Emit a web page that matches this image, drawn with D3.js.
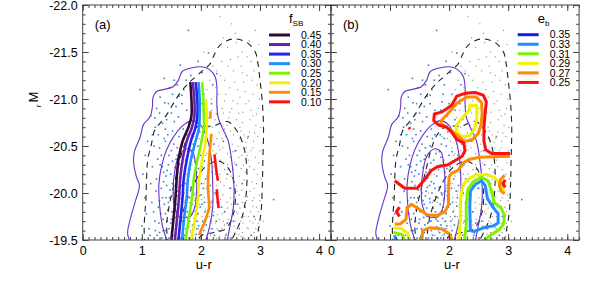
<!DOCTYPE html>
<html>
<head>
<meta charset="utf-8">
<script src="https://cdn.jsdelivr.net/npm/d3@7"></script>
<style>
  body { margin: 0; background: #fff; }
  text { font-family: "Liberation Sans", Arial, Helvetica, sans-serif; fill: #000; }
</style>
</head>
<body>
<svg id="chart" width="591" height="295"></svg>
<script>
// ---- data (u-r colour, M_r magnitude) ----
var xTicks = [0, 1, 2, 3, 4];
var yTicks = [-22.0, -21.5, -21.0, -20.5, -20.0, -19.5];
var xDomain = [0, 4.2];
var yDomain = [-22, -19.5];

// blue cloud galaxies
var blueDots = [
  [0.97,-21.10],[1.79,-21.73],[1.65,-21.36],[2.13,-21.49],[2.27,-21.27],[1.31,-21.02],[1.39,-20.96],[1.68,-21.04],
  [1.76,-20.88],[1.62,-20.81],[1.47,-21.12],[1.55,-21.20],[1.92,-21.15],[2.05,-21.05],[1.83,-21.25],[1.25,-20.90],
  [1.42,-20.78],[1.58,-20.92],[2.18,-20.95],[1.97,-20.82],[1.35,-20.74],[1.71,-21.10],[2.02,-21.28],[1.50,-20.85],
  [1.88,-20.97],[1.15,-20.82],[1.23,-20.70],[2.10,-20.78],[1.63,-21.03],[1.80,-20.75],[3.23,-19.93],[2.60,-20.30],
  [1.06,-20.40],[2.40,-19.80],
  [1.28,-20.62],[1.40,-20.55],[1.52,-20.66],[1.60,-20.48],[1.72,-20.58],[1.85,-20.62],[1.95,-20.50],[2.08,-20.60],
  [1.33,-20.40],[1.45,-20.30],[1.58,-20.36],[1.67,-20.25],[1.78,-20.42],[1.90,-20.33],[2.02,-20.28],[2.15,-20.40],
  [1.21,-20.50],[1.37,-20.22],[1.50,-20.45],[1.63,-20.60],[1.82,-20.25],[1.98,-20.65],[2.22,-20.52],[1.44,-20.62],
  [1.56,-20.27],[1.74,-20.35],[1.87,-20.52],[2.05,-20.44],[1.31,-20.30],[1.66,-20.42],[1.93,-20.22],[1.18,-20.28],
  [2.25,-20.30],[1.49,-20.20],[1.70,-20.68],
  [1.25,-20.15],[1.33,-20.05],[1.41,-20.18],[1.47,-19.95],[1.52,-20.10],[1.58,-19.88],[1.61,-20.02],[1.66,-19.75],
  [1.70,-20.12],[1.74,-19.92],[1.79,-19.64],[1.83,-20.06],[1.88,-19.81],[1.92,-19.56],[1.97,-19.97],[2.03,-19.70],
  [2.08,-20.15],[2.13,-19.86],[2.19,-19.62],[2.24,-20.00],[1.28,-19.85],[1.36,-19.72],[1.39,-19.60],[1.44,-19.82],
  [1.49,-19.68],[1.55,-19.55],[1.57,-19.74],[1.63,-19.60],[1.68,-19.90],[1.72,-19.55],[1.77,-19.80],[1.81,-19.95],
  [1.86,-19.66],[1.90,-20.12],[1.95,-19.78],[2.00,-19.58],[2.06,-19.90],[2.11,-19.55],[2.16,-20.08],[2.21,-19.76],
  [1.22,-19.70],[1.30,-19.58],[1.35,-19.95],[1.42,-20.08],[1.46,-19.52],[1.51,-19.80],[1.54,-20.00],[1.59,-19.66],
  [1.64,-20.16],[1.69,-19.70],[1.73,-19.84],[1.76,-20.05],[1.80,-19.52],[1.85,-19.88],[1.89,-19.73],[1.94,-20.02],
  [1.99,-19.85],[2.04,-20.05],[2.09,-19.66],[2.14,-19.95],[1.38,-19.88],[1.48,-20.03],[1.53,-19.62],[1.60,-19.97],
  [1.65,-19.52],[1.71,-20.00],[1.78,-19.72],[1.84,-19.58],[1.91,-19.94],[1.96,-19.65],[2.01,-20.10],[2.07,-19.80],
  [1.26,-19.55],[1.32,-19.78],[1.43,-19.70],[1.62,-19.84],[1.67,-20.08],[1.75,-19.62],[1.87,-20.00],[1.98,-19.52],
  [2.30,-19.60],[2.35,-19.85],[2.28,-20.15],[2.42,-19.55],[1.17,-19.90],[1.12,-19.62],[1.08,-19.78],[2.50,-20.05],
  [2.55,-19.70],[2.65,-19.62],[2.45,-20.20],[2.38,-20.55],[2.70,-20.10],[1.15,-20.10],[1.05,-19.95],[2.85,-19.55],
  [2.75,-19.85],
  [1.30,-20.48],[1.38,-20.58],[1.46,-20.40],[1.54,-20.52],[1.60,-20.40],[1.68,-20.50],[1.76,-20.62],[1.84,-20.44],
  [1.92,-20.58],[2.00,-20.40],[1.27,-20.36],[1.35,-20.28],[1.43,-20.24],[1.52,-20.34],[1.61,-20.22],[1.69,-20.32],
  [1.79,-20.18],[1.86,-20.38],[1.96,-20.26],[2.06,-20.34],[1.24,-20.02],[1.30,-19.92],[1.37,-20.12],[1.45,-19.90],
  [1.50,-19.72],[1.56,-19.92],[1.60,-19.78],[1.64,-19.68],[1.67,-19.94],[1.72,-19.76],[1.77,-19.96],[1.81,-19.70],
  [1.86,-19.52],[1.90,-19.85],[1.93,-19.62],[1.97,-20.08],[2.02,-19.88],[2.10,-19.75],[2.18,-19.90],[2.23,-19.55],
  [1.29,-19.68],[1.34,-19.52],[1.40,-19.78],[1.46,-19.62],[1.52,-19.54],[1.58,-19.58],[1.63,-20.06],[1.70,-19.60],
  [1.74,-20.10],[1.83,-19.78],[1.88,-19.98],[1.94,-19.70],[2.00,-19.98],[2.05,-19.60],[2.12,-20.02],[2.17,-19.70],
  [1.20,-19.80],[1.23,-19.60],[1.36,-19.60],[1.41,-19.95],[1.18,-20.62],[1.22,-20.80],[1.30,-20.85],[1.45,-20.95],
  [1.52,-21.05],[1.60,-21.15],[1.75,-21.20],[1.90,-21.05],[2.00,-20.95],[2.10,-20.88],[1.86,-20.88],[1.68,-20.95],
  [1.40,-20.68],[1.55,-20.76],[2.20,-21.15],[1.10,-20.55],[1.02,-20.20],[1.00,-19.65],[2.30,-19.90],[2.26,-19.70],
  [2.45,-19.68],[2.62,-19.88],[2.58,-20.45],[2.80,-20.60],[1.14,-19.55],[1.95,-21.40],[1.38,-21.22],[2.90,-19.75]
];

// red sequence galaxies
var grayDots = [
  [2.32,-21.88],[2.58,-21.70],[2.92,-21.73],[2.45,-21.55],[2.70,-21.50],[2.85,-21.40],[2.20,-21.35],[2.55,-21.30],
  [2.40,-21.20],[2.78,-21.25],[2.95,-21.15],[2.62,-21.10],[2.30,-21.05],[2.88,-21.05],[2.50,-21.42],[2.15,-21.20],
  [2.68,-21.35],[2.98,-21.58],[2.38,-21.65],[2.05,-21.50],[2.82,-21.62],[2.48,-21.12],[2.72,-21.18],[2.25,-21.12],
  [2.60,-21.60],[2.90,-21.30],[2.35,-21.40],[2.10,-21.10],[2.66,-21.02],[2.52,-21.80],
  [2.05,-20.95],[2.18,-20.88],[2.28,-20.92],[2.40,-20.98],[2.52,-20.90],[2.64,-20.85],[2.76,-20.95],[2.88,-20.82],
  [2.97,-20.90],[2.12,-20.70],[2.24,-20.78],[2.35,-20.72],[2.47,-20.80],[2.58,-20.68],[2.70,-20.75],[2.82,-20.65],
  [2.93,-20.72],[2.02,-20.55],[2.16,-20.62],[2.30,-20.50],[2.42,-20.60],[2.53,-20.52],[2.66,-20.58],[2.77,-20.48],
  [2.89,-20.55],[3.00,-20.45],[2.08,-20.40],[2.20,-20.45],[2.33,-20.35],[2.45,-20.42],[2.57,-20.32],[2.69,-20.40],
  [2.80,-20.35],[2.92,-20.38],[1.95,-20.75],[1.88,-20.60],[2.62,-20.95],[2.38,-20.85],[2.85,-20.88],[2.73,-20.62],
  [2.50,-20.66],[2.27,-20.58],[2.96,-20.60],[2.14,-20.52],[2.60,-20.45],[2.45,-20.30],
  [2.00,-20.25],[2.10,-20.18],[2.22,-20.28],[2.32,-20.20],[2.43,-20.15],[2.55,-20.25],[2.65,-20.18],[2.75,-20.22],
  [2.86,-20.12],[2.96,-20.20],[1.95,-20.05],[2.05,-20.10],[2.15,-20.02],[2.26,-20.08],[2.37,-19.98],[2.48,-20.05],
  [2.58,-19.95],[2.69,-20.03],[2.79,-19.96],[2.90,-20.05],[3.00,-19.92],[1.98,-19.88],[2.08,-19.82],[2.19,-19.92],
  [2.30,-19.85],[2.41,-19.80],[2.52,-19.88],[2.62,-19.78],[2.73,-19.86],[2.84,-19.80],[2.94,-19.85],[1.92,-19.70],
  [2.03,-19.65],[2.14,-19.75],[2.24,-19.68],[2.35,-19.62],[2.46,-19.72],[2.56,-19.65],[2.67,-19.70],[2.78,-19.63],
  [2.88,-19.68],[2.98,-19.60],[2.00,-19.55],[2.11,-19.52],[2.21,-19.58],[2.32,-19.54],[2.43,-19.57],[2.53,-19.52],
  [2.64,-19.56],[2.74,-19.52],[2.85,-19.55],[2.12,-20.30],[2.40,-20.25],[2.60,-20.08],[2.82,-20.28],[2.25,-19.98],
  [2.50,-19.95],[2.70,-19.90],[2.90,-19.95],[2.17,-19.85],[2.38,-19.70],[2.60,-19.80],[2.80,-19.75],[2.28,-19.77],
  [2.48,-19.62],[2.70,-19.58],[2.92,-19.72],[2.06,-19.95],[2.33,-20.12],[2.55,-20.12],[2.77,-20.08],[2.20,-20.15],
  [2.44,-19.90],[2.65,-19.98],[2.87,-19.92],[2.15,-19.62],[2.37,-19.50],[2.58,-19.50],[2.80,-19.52],[1.85,-19.80],
  [1.90,-20.00],[1.82,-19.60],[1.75,-20.20],[1.70,-19.70],[1.65,-20.00],[2.95,-19.50],[3.05,-19.70],[3.02,-20.15],
  [1.78,-20.45],[1.85,-20.30],[2.02,-19.75],[2.27,-19.90],[2.52,-19.75],[2.73,-19.75],[2.97,-19.80],
  [2.03,-20.88],[2.13,-20.80],[2.26,-20.84],[2.36,-20.90],[2.49,-20.86],[2.60,-20.78],[2.71,-20.86],[2.83,-20.78],
  [2.94,-20.84],[2.07,-20.66],[2.19,-20.70],[2.31,-20.64],[2.40,-20.68],[2.55,-20.62],[2.68,-20.66],[2.79,-20.58],
  [2.91,-20.64],[3.01,-20.70],[2.05,-20.48],[2.17,-20.35],[2.26,-20.42],[2.37,-20.48],[2.50,-20.38],[2.62,-20.50],
  [2.72,-20.30],[2.85,-20.45],[2.98,-20.32],[1.98,-20.15],[2.09,-20.05],[2.18,-20.22],[2.29,-20.00],[2.39,-20.08],
  [2.51,-20.18],[2.61,-20.02],[2.73,-20.14],[2.83,-20.02],[2.94,-20.10],[2.01,-19.93],[2.12,-19.90],[2.22,-19.80],
  [2.33,-19.93],[2.45,-19.84],[2.56,-19.90],[2.66,-19.84],[2.77,-19.92],[2.88,-19.86],[2.99,-19.98],[1.96,-19.62],
  [2.06,-19.72],[2.17,-19.68],[2.27,-19.62],[2.40,-19.66],[2.50,-19.70],[2.61,-19.62],[2.71,-19.68],[2.83,-19.70],
  [2.93,-19.62],[2.05,-19.50],[2.16,-19.55],[2.26,-19.52],[2.47,-19.52],[2.68,-19.54],[2.90,-19.58],[2.42,-21.05],
  [2.57,-21.18],[2.75,-21.08],[2.86,-21.20],[2.33,-21.25],[2.63,-21.45],[2.46,-21.35],[2.78,-21.45],[2.94,-21.45],
  [2.18,-21.00],[2.54,-20.98],[2.81,-20.98],[2.99,-21.00],[2.27,-21.30],[2.70,-21.28],[1.92,-20.35],[1.97,-20.58],
  [1.90,-19.92],[1.80,-19.90],[1.95,-19.78],[1.88,-19.55],[1.76,-19.55],[1.72,-19.90],[2.36,-20.58],[2.48,-20.50],
  [2.64,-20.38],[2.76,-20.54],[2.88,-20.48],[2.24,-20.20],[2.46,-20.25],[2.68,-20.26],[2.90,-20.25],[2.14,-19.98],
  [2.36,-19.78],[2.58,-19.70],[2.80,-19.62],[2.31,-19.72],[2.53,-19.82],[2.75,-19.96],[2.97,-19.68],[2.10,-20.42],
  [2.32,-20.46],[2.54,-20.44],[2.78,-20.40],[2.44,-20.72],[2.66,-20.70]
];

// density contours of the red sequence (dashed)
var redContours = [
  [[1.05,-19.45],[1.04,-19.61],[1.05,-19.77],[1.07,-19.93],[1.08,-20.14],[1.10,-20.35],[1.16,-20.51],[1.22,-20.67],
   [1.36,-20.78],[1.44,-20.85],[1.56,-20.98],[1.68,-21.09],[1.81,-21.18],[1.92,-21.24],[2.04,-21.31],[2.15,-21.37],
   [2.24,-21.49],[2.32,-21.57],[2.44,-21.62],[2.58,-21.64],[2.78,-21.60],[2.92,-21.50],[2.96,-21.40],[3.00,-21.20],
   [3.04,-20.96],[3.06,-20.70],[3.05,-20.38],[3.04,-20.10],[3.02,-19.81],[2.97,-19.60],[2.92,-19.45]],
  [[1.45,-19.45],[1.42,-19.65],[1.46,-19.85],[1.53,-20.05],[1.61,-20.25],[1.69,-20.45],[1.80,-20.62],[1.96,-20.71],
   [2.20,-20.71],[2.45,-20.76],[2.63,-20.64],[2.74,-20.45],[2.78,-20.20],[2.76,-19.95],[2.70,-19.75],[2.60,-19.60],
   [2.48,-19.45]],
  [[1.62,-19.45],[1.66,-19.70],[1.76,-19.92],[1.90,-20.12],[2.08,-20.28],[2.30,-20.34],[2.48,-20.25],[2.58,-20.02],
   [2.55,-19.78],[2.42,-19.62],[2.22,-19.58],[2.02,-19.55],[1.88,-19.45]]
];

// density contours of the blue cloud (solid)
var blueContours = [
  [[0.82,-19.45],[0.76,-19.57],[0.80,-19.71],[0.88,-19.89],[0.96,-20.08],[0.91,-20.17],[0.86,-20.34],[0.88,-20.45],
   [0.97,-20.59],[1.03,-20.73],[1.14,-20.81],[1.18,-20.92],[1.19,-21.02],[1.25,-21.08],[1.36,-21.10],[1.53,-21.13],
   [1.62,-21.20],[1.68,-21.29],[1.84,-21.33],[2.04,-21.34],[2.15,-21.31],[2.24,-21.24],[2.27,-21.13],[2.27,-20.95],
   [2.29,-20.81],[2.35,-20.71],[2.46,-20.56],[2.52,-20.35],[2.56,-20.07],[2.55,-19.85],[2.49,-19.64],[2.43,-19.45]],
  [[1.45,-19.45],[1.35,-19.65],[1.30,-19.88],[1.29,-20.10],[1.34,-20.30],[1.42,-20.46],[1.55,-20.61],[1.70,-20.72],
   [1.85,-20.77],[2.00,-20.72],[2.12,-20.55],[2.18,-20.35],[2.20,-20.10],[2.20,-19.85],[2.15,-19.65],[2.06,-19.45]],
  [[1.62,-19.75],[1.55,-19.86],[1.53,-20.03],[1.56,-20.24],[1.63,-20.40],[1.76,-20.47],[1.86,-20.44],[1.91,-20.30],
   [1.93,-20.06],[1.90,-19.86],[1.82,-19.75],[1.62,-19.75]]
];

// panel (a): constant f_SB curves
var fsbLevels = ["0.45", "0.40", "0.35", "0.30", "0.25", "0.20", "0.15", "0.10"];
var fsbLines = [
  [[[1.82,-21.18],[1.84,-21.00],[1.84,-20.82],[1.79,-20.70],[1.69,-20.55],[1.62,-20.35],[1.59,-20.15],[1.57,-19.95],[1.54,-19.75],[1.50,-19.50]]],
  [[[1.86,-21.18],[1.89,-21.00],[1.89,-20.82],[1.85,-20.70],[1.76,-20.55],[1.69,-20.35],[1.65,-20.15],[1.63,-19.95],[1.60,-19.75],[1.56,-19.50]]],
  [[[1.91,-21.18],[1.94,-21.00],[1.94,-20.82],[1.91,-20.70],[1.83,-20.55],[1.76,-20.35],[1.71,-20.15],[1.69,-19.95],[1.66,-19.75],[1.62,-19.50]]],
  [[[1.96,-21.18],[1.98,-21.00],[1.98,-20.82],[1.97,-20.70],[1.91,-20.55],[1.83,-20.35],[1.78,-20.15],[1.76,-19.95],[1.72,-19.75],[1.68,-19.50]]],
  [[[2.02,-21.18],[2.04,-21.00],[2.05,-20.82],[2.05,-20.70],[2.01,-20.55],[1.94,-20.35],[1.88,-20.15],[1.85,-19.95],[1.80,-19.75],[1.74,-19.50]]],
  [[[2.09,-21.00],[2.10,-20.82],[2.10,-20.70],[2.08,-20.55],[2.02,-20.35],[1.97,-20.15],[1.95,-19.95],[1.91,-19.75],[1.83,-19.50]]],
  [[[2.16,-20.87],[2.16,-20.79]],
   [[2.18,-20.63],[2.15,-20.45],[2.13,-20.25],[2.12,-20.07],[2.13,-19.95],[2.14,-19.85],[2.08,-19.72],[2.00,-19.60],[1.97,-19.55]]],
  [[[2.23,-20.41],[2.25,-20.30],[2.27,-20.20],[2.29,-20.13]],
   [[2.27,-20.04],[2.28,-19.95],[2.30,-19.84]]]
];

// panel (b): constant e_b contours
var ebLevels = ["0.35", "0.33", "0.31", "0.29", "0.27", "0.25"];
var ebLines = [
  [[[1.09,-19.52],[1.12,-19.47]]],
  [[[1.07,-19.55],[1.11,-19.50],[1.13,-19.45]],
   [[2.36,-19.60],[2.35,-19.85],[2.36,-20.02],[2.44,-20.09],[2.55,-20.13],[2.61,-20.08],[2.65,-19.94],[2.74,-19.85],
    [2.83,-19.78],[2.83,-19.68],[2.75,-19.65],[2.58,-19.63],[2.42,-19.59],[2.36,-19.60]]],
  [[[1.06,-19.58],[1.20,-19.56],[1.27,-19.47]],
   [[2.25,-19.45],[2.29,-19.65],[2.29,-19.88],[2.32,-20.04],[2.41,-20.12],[2.55,-20.17],[2.66,-20.13],[2.72,-20.02],
    [2.76,-19.90],[2.88,-19.84],[2.94,-19.76],[2.92,-19.67],[2.85,-19.61],[2.72,-19.56],[2.60,-19.50]]],
  [[[1.06,-19.63],[1.20,-19.62],[1.30,-19.57],[1.34,-19.47]],
   [[2.16,-19.45],[2.19,-19.70],[2.19,-19.92],[2.23,-20.07],[2.30,-20.14],[2.45,-20.19],[2.62,-20.20],[2.78,-20.16],
    [2.88,-20.08],[2.94,-20.00]],
   [[2.12,-20.72],[2.25,-20.82],[2.34,-20.88],[2.35,-20.93],[2.47,-20.93],[2.47,-20.80],[2.43,-20.68],[2.35,-20.61],
    [2.22,-20.60],[2.12,-20.65],[2.12,-20.72]]],
  [[[1.84,-20.75],[2.00,-20.86],[2.14,-20.96],[2.30,-21.02],[2.46,-21.02],[2.55,-20.96],[2.56,-20.85],[2.54,-20.72],
    [2.49,-20.63],[2.38,-20.56],[2.26,-20.55],[2.12,-20.62],[1.98,-20.69],[1.84,-20.75]],
   [[3.03,-20.39],[2.52,-20.38],[2.35,-20.36],[2.24,-20.32],[2.15,-20.24],[2.04,-20.21],[2.00,-20.17],[1.99,-20.02],
    [1.99,-19.88],[1.93,-19.80],[1.79,-19.76],[1.62,-19.77],[1.49,-19.83],[1.36,-19.88],[1.29,-19.84],[1.27,-19.72],
    [1.17,-19.67],[1.08,-19.67]],
   [[1.54,-19.45],[1.55,-19.60],[1.68,-19.63],[1.87,-19.62],[2.01,-19.56],[2.08,-19.45]],
   [[2.94,-20.19],[2.87,-20.14],[2.85,-20.08],[2.88,-20.02],[2.94,-19.99]]],
  [[[1.08,-20.13],[1.25,-20.05],[1.46,-20.05],[1.57,-20.13],[1.70,-20.24],[1.80,-20.28],[1.98,-20.30],[2.09,-20.34],
    [2.22,-20.39],[2.27,-20.45],[2.25,-20.53],[2.13,-20.57],[2.04,-20.65],[1.96,-20.70],[1.83,-20.72],[1.74,-20.77],
    [1.75,-20.84],[1.87,-20.86],[2.04,-20.93],[2.13,-21.03],[2.27,-21.06],[2.44,-21.07],[2.58,-21.04],[2.63,-20.97],
    [2.61,-20.85],[2.59,-20.70],[2.59,-20.55],[2.62,-20.46],[2.72,-20.42],[2.86,-20.42],[3.03,-20.42]],
   [[1.16,-19.85],[1.11,-19.80],[1.16,-19.75]],
   [[2.95,-20.14],[2.91,-20.10],[2.95,-20.06]],
   [[1.32,-20.70],[1.34,-20.68]]]
];

// ---- styles ----
var fsbColors = ["#2e0b33", "#6a1fa8", "#2121f2", "#1e8fff", "#7cf200", "#f2f200", "#ff8c00", "#ff1010"];
var ebColors = ["#1a1af0", "#1e8fff", "#7cf200", "#f2f200", "#ff8c00", "#ff1010"];
var purple = "#6633cc";

var svg = d3.select("#chart");
var margin = {top: 5, left: 82.7},
    pw = 248.2,
    ph = 235;

var x = d3.scaleLinear().domain(xDomain).range([0, pw]);
var y = d3.scaleLinear().domain(yDomain).range([0, ph]);

var straight = d3.line().x(function(d){ return x(d[0]); }).y(function(d){ return y(d[1]); });
var smooth = d3.line().curve(d3.curveCatmullRom.alpha(0.5))
    .x(function(d){ return x(d[0]); }).y(function(d){ return y(d[1]); });

function drawAxes(g, showYLabels){
    var xMinor = d3.range(0, 4.21, 0.1),
        yMinor = d3.range(-22, -19.49, 0.1);
    var noFmt = function(){ return ""; };
    var yFmt = function(d){ return d.toFixed(1); };

    var specs = [
        [d3.axisBottom(x).tickValues(xTicks).tickSize(-6).tickPadding(6).tickFormat(d3.format("d")), 0, ph],
        [d3.axisBottom(x).tickValues(xMinor).tickSize(-3).tickFormat(noFmt), 0, ph],
        [d3.axisTop(x).tickValues(xTicks).tickSize(-6).tickFormat(noFmt), 0, 0],
        [d3.axisTop(x).tickValues(xMinor).tickSize(-3).tickFormat(noFmt), 0, 0],
        [d3.axisLeft(y).tickValues(yTicks).tickSize(-6).tickPadding(5).tickFormat(showYLabels ? yFmt : noFmt), 0, 0],
        [d3.axisLeft(y).tickValues(yMinor).tickSize(-3).tickFormat(noFmt), 0, 0],
        [d3.axisRight(y).tickValues(yTicks).tickSize(-6).tickFormat(noFmt), pw, 0],
        [d3.axisRight(y).tickValues(yMinor).tickSize(-3).tickFormat(noFmt), pw, 0]
    ];
    specs.forEach(function(s){
        var a = g.append("g")
            .attr("transform", "translate(" + s[1] + "," + s[2] + ")")
            .call(s[0]);
        a.select(".domain").remove();
        a.selectAll("line").attr("stroke", "#444");
        a.selectAll("text").attr("font-size", "12.5px").attr("font-family", null).attr("fill", "#000");
    });

    g.append("rect")
        .attr("width", pw).attr("height", ph)
        .attr("fill", "none").attr("stroke", "#444").attr("stroke-width", 1);

    g.append("text")
        .attr("x", pw / 2 - 3).attr("y", ph + 29)
        .attr("text-anchor", "middle")
        .attr("font-size", "13px")
        .text("u-r");
}

function drawBackground(g, id){
    g.append("clipPath").attr("id", id)
        .append("rect").attr("width", pw).attr("height", ph);
    var inner = g.append("g").attr("clip-path", "url(#" + id + ")");

    inner.selectAll("rect.gray").data(grayDots).enter().append("rect")
        .attr("class", "gray")
        .attr("x", function(d){ return x(d[0]) - 0.5; })
        .attr("y", function(d){ return y(d[1]) - 0.5; })
        .attr("width", 1.1).attr("height", 1.1)
        .attr("fill", "#8a8a8a");

    inner.selectAll("rect.blue").data(blueDots).enter().append("rect")
        .attr("class", "blue")
        .attr("x", function(d){ return x(d[0]) - 0.8; })
        .attr("y", function(d){ return y(d[1]) - 0.8; })
        .attr("width", 1.6).attr("height", 1.6)
        .attr("fill", "#3f80cf");

    inner.selectAll("path.red").data(redContours).enter().append("path")
        .attr("class", "red")
        .attr("d", smooth)
        .attr("fill", "none").attr("stroke", "#222")
        .attr("stroke-width", 1.1).attr("stroke-dasharray", "6,5");

    inner.selectAll("path.blue").data(blueContours).enter().append("path")
        .attr("class", "blue")
        .attr("d", smooth)
        .attr("fill", "none").attr("stroke", purple)
        .attr("stroke-width", 1.1);

    return inner;
}

function drawLegend(g, title, sub, levels, colors, lx, ly){
    var t = g.append("text").attr("x", lx + 20).attr("y", ly - 12).attr("font-size", "13px");
    t.append("tspan").text(title);
    t.append("tspan").attr("font-size", "8px").attr("dy", 3).text(sub);

    var row = g.selectAll("g.leg").data(levels).enter().append("g")
        .attr("class", "leg")
        .attr("transform", function(d, i){ return "translate(" + lx + "," + (ly + i * 9.55) + ")"; });
    row.append("line")
        .attr("x1", 0).attr("x2", 21)
        .attr("stroke", function(d, i){ return colors[i]; })
        .attr("stroke-width", 3);
    row.append("text")
        .attr("x", 32).attr("dy", "0.36em")
        .attr("font-size", "10.5px")
        .text(function(d){ return d; });
}

// ---- panel (a) ----
var ga = svg.append("g").attr("transform", "translate(" + margin.left + "," + margin.top + ")");
var ia = drawBackground(ga, "clipA");
fsbLines.forEach(function(segs, i){
    ia.selectAll(null).data(segs).enter().append("path")
        .attr("d", smooth)
        .attr("fill", "none")
        .attr("stroke", fsbColors[i])
        .attr("stroke-width", 2.6)
        .attr("stroke-linecap", "butt");
});
drawAxes(ga, true);
drawLegend(ga, "f", "SB", fsbLevels, fsbColors, 269 - margin.left, 35 - margin.top);
ga.append("text").attr("x", 12).attr("y", 24).attr("font-size", "13px").text("(a)");

// ---- panel (b) ----
var gb = svg.append("g").attr("transform", "translate(" + (margin.left + pw) + "," + margin.top + ")");
var ib = drawBackground(gb, "clipB");
ebLines.forEach(function(segs, i){
    ib.selectAll(null).data(segs).enter().append("path")
        .attr("d", straight)
        .attr("fill", "none")
        .attr("stroke", ebColors[i])
        .attr("stroke-width", 3)
        .attr("stroke-linejoin", "round");
});
drawAxes(gb, false);
drawLegend(gb, "e", "b", ebLevels, ebColors, 517.7 - margin.left - pw, 34.7 - margin.top);
gb.append("text").attr("x", 12).attr("y", 24).attr("font-size", "13px").text("(b)");

// y axis title
svg.append("text")
    .attr("transform", "translate(38,97) rotate(-90)")
    .attr("text-anchor", "middle")
    .attr("font-size", "13px")
    .text("M");
svg.append("text")
    .attr("transform", "translate(41,106) rotate(-90)")
    .attr("text-anchor", "middle")
    .attr("font-size", "8px")
    .text("r");
</script>
</body>
</html>
